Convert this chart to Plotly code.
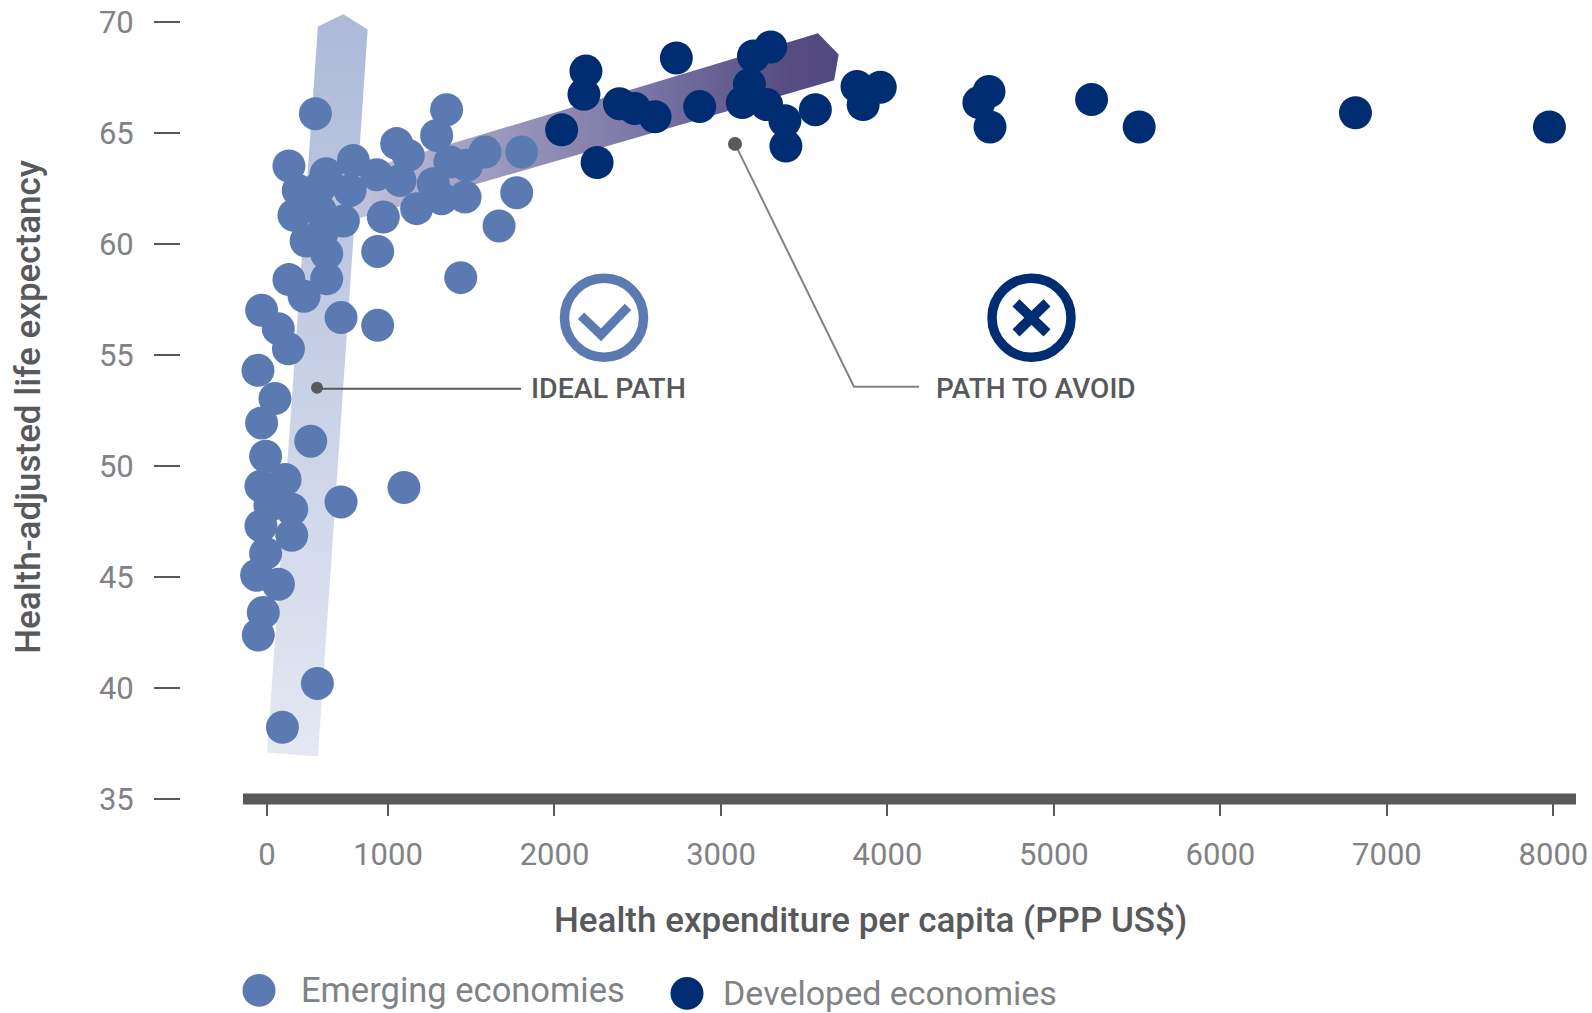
import plotly.graph_objects as go

# --- data (x values are read on the linear part of the printed axis) ---
emerging_x = [564, 1352, 1292, 1052, 1122, 405, 628, 792, 932, 1072, 1583, 1803, 1372, 1473, 461, 592, 772,
              1272, 1463, 1322, 1172, 1773, 972, 435, 732, 592, 508, 602, 632, 938, 1667, 405, 632, 496,
              1437, 241, 718, 938, 341, 402, 219, 321, 241, 536, 265, 382, 237, 291, 1096, 718, 291, 422,
              237, 422, 265, 211, 342, 251, 221, 576, 366]
emerging_y = [65.89, 66.07, 64.91, 64.54, 64.01, 63.53, 63.18, 63.78, 63.14, 62.88, 64.16, 64.16, 63.71, 63.56,
              62.43, 62.58, 62.43, 62.73, 62.13, 62.06, 61.61, 62.33, 61.23, 61.31, 61.05, 61.53, 60.15, 60.48,
              59.58, 59.68, 60.83, 58.41, 58.45, 57.66, 58.50, 57.03, 56.70, 56.35, 56.2, 55.29, 54.32, 53.05,
              51.95, 51.13, 50.45, 49.40, 49.10, 48.77, 49.04, 48.39, 48.24, 48.06, 47.31, 46.89, 46.07, 45.09,
              44.68, 43.41, 42.39, 40.21, 38.23]
developed_x = [2043, 2189, 2177, 2256, 2390, 2482, 2604, 2732, 2872, 3128, 3171, 3195, 3299, 3274, 3384, 3390,
               3567, 3817, 3957, 3854, 4549, 4610, 4616, 5226, 5512, 6811, 7976]
developed_y = [65.16, 67.81, 66.76, 63.69, 66.34, 66.12, 65.75, 68.40, 66.21, 66.39, 67.21, 68.49, 68.90, 66.30,
               65.57, 64.43, 66.07, 67.12, 67.08, 66.30, 66.39, 66.89, 65.29, 66.53, 65.29, 65.93, 65.29]

ideal_path_x = [274, 579, 878, 732, 579, 274]
ideal_path_y = [37.10, 36.92, 69.68, 70.37, 69.82, 37.10]
avoid_path_x = [744, 3583, 3707, 3680, 744, 744]
avoid_path_y = [63.10, 69.51, 68.56, 67.40, 61.00, 63.10]

x_tick_positions = [273, 1000, 2000, 3000, 4000, 5000, 6000, 7000, 8000]
x_tick_labels = ["0", "1000", "2000", "3000", "4000", "5000", "6000", "7000", "8000"]
y_ticks = [35, 40, 45, 50, 55, 60, 65, 70]

# --- style ---
EMERGING = "#5c7ab2"
DEVELOPED = "#002d72"
DARK = "#58595b"
GREY = "#808285"
FONT = "Roboto"
W, H = 1592, 1013
L, T, R, B = 181, 0, 1592, 799.5


def px(x):
    return (x - L) / (R - L)


def py(y):
    return (B - y) / (B - T)


def seg(points, color, width):
    path = "M " + " L ".join(f"{px(a):.5f},{py(b):.5f}" for a, b in points)
    return dict(type="path", xref="paper", yref="paper", path=path, line=dict(color=color, width=width))


def circle(cx, cy, r, fill=None, line=None, lw=0, layer="above"):
    return dict(type="circle", xref="paper", yref="paper", layer=layer,
                x0=px(cx - r), x1=px(cx + r), y0=py(cy + r), y1=py(cy - r),
                fillcolor=fill or "rgba(0,0,0,0)", line=dict(color=line or "rgba(0,0,0,0)", width=lw))


def label(text, x, y, size, color, xanchor="left", angle=0, weight=400):
    return dict(text=text, x=px(x), y=py(y), xref="paper", yref="paper",
                xanchor=xanchor, yanchor="middle", showarrow=False, textangle=angle,
                font=dict(family=FONT, size=size, color=color, weight=weight))


fig = go.Figure()
fig.add_trace(go.Scatter(x=ideal_path_x, y=ideal_path_y, mode="lines", line=dict(width=0), fill="toself",
                         fillgradient=dict(type="vertical", colorscale=[[0, "#e4e8f3"], [1, "#adb9d9"]]),
                         showlegend=False, hoverinfo="skip"))
fig.add_trace(go.Scatter(x=avoid_path_x, y=avoid_path_y, mode="lines", line=dict(width=0), fill="toself",
                         fillgradient=dict(type="horizontal",
                                           colorscale=[[0, "#c4c6de"], [0.3, "#9c9abf"], [0.6, "#7b76a5"],
                                                       [0.9, "#564c82"], [1, "#534981"]]),
                         showlegend=False, hoverinfo="skip"))
fig.add_trace(go.Scatter(x=emerging_x, y=emerging_y, mode="markers", name="Emerging economies",
                         marker=dict(size=33, color=EMERGING), showlegend=False))
fig.add_trace(go.Scatter(x=developed_x, y=developed_y, mode="markers", name="Developed economies",
                         marker=dict(size=33, color=DEVELOPED), showlegend=False))

shapes = [
    dict(type="rect", xref="paper", yref="paper", x0=px(243), x1=px(1576), y0=py(805), y1=py(794),
         fillcolor=DARK, line=dict(width=0)),
    circle(604, 318, 39.5, line=EMERGING, lw=9.5),
    seg([(581, 316), (601, 335), (628, 307)], EMERGING, 9),
    circle(1031.5, 318, 39.5, line=DEVELOPED, lw=9.5),
    seg([(1016, 303), (1047, 333)], DEVELOPED, 10),
    seg([(1047, 303), (1016, 333)], DEVELOPED, 10),
    seg([(317, 389), (521, 389)], DARK, 2),
    circle(317, 388, 6, fill=DARK),
    seg([(735, 144), (854, 387), (919, 387)], GREY, 2),
    circle(735, 144, 7, fill=DARK),
    circle(259, 991, 16.5, fill=EMERGING),
    circle(687, 994, 16.5, fill=DEVELOPED),
]

annotations = [
    label("Health-adjusted life expectancy", 29, 407, 35, DARK, xanchor="center", angle=-90, weight=500),
    label("Health expenditure per capita (PPP US$)", 870, 921, 35, DARK, xanchor="center", weight=500),
    label("IDEAL PATH", 529, 389, 28.5, DARK, weight=500),
    label("PATH TO AVOID", 934, 389, 28, DARK, weight=500),
    label("Emerging economies", 299, 991, 34.5, GREY),
    label("Developed economies", 721, 994, 34, GREY),
]

fig.update_layout(
    width=W, height=H, autosize=False, paper_bgcolor="white", plot_bgcolor="rgba(0,0,0,0)",
    margin=dict(l=L, r=W - R, t=T, b=H - B, pad=0), showlegend=False,
    shapes=shapes, annotations=annotations,
    xaxis=dict(range=[(L - 221.5) / 0.16649, (R - 221.5) / 0.16649], tickmode="array",
               tickvals=x_tick_positions, ticktext=x_tick_labels, ticks="outside", ticklen=16, tickwidth=2,
               tickcolor=DARK, showgrid=False, zeroline=False, showline=False, ticklabelstandoff=12,
               tickfont=dict(family=FONT, size=31, color=GREY)),
    yaxis=dict(range=[35, 35 + 799.5 / 22.2], tickmode="array", tickvals=y_ticks, ticks="outside", ticklen=26,
               tickwidth=2, tickcolor=DARK, showgrid=False, zeroline=False, showline=False, ticklabelstandoff=14,
               tickfont=dict(family=FONT, size=31, color=GREY)),
)

fig.write_html("out.html", config=dict(displayModeBar=False),
               post_script="document.body.style.margin='0';document.body.style.overflow='hidden';")
